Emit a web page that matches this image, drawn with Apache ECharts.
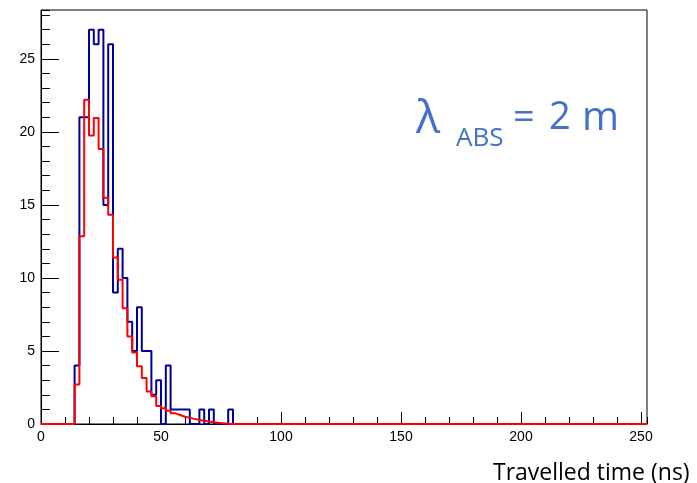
<!DOCTYPE html>
<html><head><meta charset="utf-8">
<script src="https://cdn.jsdelivr.net/npm/echarts@6/dist/echarts.min.js"></script>
<style>html,body{margin:0;padding:0;background:#fff}#c{width:697px;height:483px}</style>
</head><body><div id="c"></div>
<script>
// Histogram binning (ns)
const binWidth = 2;
const nBins = 125;
const firstBin = 7;          // first filled bin starts at 14 ns
const xMax = 252.5;
const yMax = 28.35;
const xTickLabels = [0, 50, 100, 150, 200, 250];
const yTickLabels = [0, 5, 10, 15, 20, 25];
// blue: counts per bin starting at 14 ns
const blueCounts = [4,21,21,27,26,27,15,26,9,12,10,7,5,8,5,5,2,3,0,4,1,1,1,1,0,0,1,0,1,0,0,0,1];
// red: (scaled) reference distribution per bin starting at 14 ns
const redCounts = [2.7,12.85,22.2,19.75,20.95,18.84,15.5,14.33,11.4,9.88,7.93,5.99,4.9,3.95,3.15,2.22,1.9,1.23,1.07,0.9,0.73,0.62,0.5,0.42,0.35,0.28,0.22,0.17,0.12,0.08,0.05,0.02];

function histPoints(vals) {
  const pts = [];
  for (let k = 0; k < nBins; k++) {
    const i = k - firstBin;
    const v = (i >= 0 && i < vals.length) ? vals[i] : 0;
    pts.push([k * binWidth, v]);
  }
  pts.push([xMax, 0]);
  return pts;
}

const labelFont = { fontFamily: 'Liberation Sans, Arial, sans-serif', fontSize: 14, color: '#000' };
const chart = echarts.init(document.getElementById('c'), null, { renderer: 'canvas' });
chart.setOption({
  animation: false,
  backgroundColor: '#fff',
  grid: { left: 41, right: 50, top: 10, bottom: 59, show: true, borderColor: '#000', borderWidth: 1, backgroundColor: 'transparent', containLabel: false },
  xAxis: [
    { type: 'value', gridIndex: 0, position: 'bottom', min: 0, max: xMax, interval: 50,
      axisLine: { show: true, onZero: false, lineStyle: { color: '#000', width: 1 } },
      axisTick: { show: true, inside: true, length: 12, lineStyle: { color: '#000', width: 1 } },
      axisLabel: Object.assign({ showMaxLabel: false, margin: 6,
        formatter: v => xTickLabels.indexOf(v) >= 0 ? String(v) : '' }, labelFont),
      splitLine: { show: false } },
    { type: 'value', gridIndex: 0, position: 'bottom', min: 0, max: xMax, interval: 10,
      axisLine: { show: false, onZero: false },
      axisTick: { show: true, inside: true, length: 7, lineStyle: { color: '#000', width: 1 } },
      axisLabel: { show: false }, splitLine: { show: false } }
  ],
  yAxis: [
    { type: 'value', gridIndex: 0, position: 'left', min: 0, max: yMax, interval: 5,
      axisLine: { show: true, onZero: false, lineStyle: { color: '#000', width: 1 } },
      axisTick: { show: true, inside: true, length: 18, lineStyle: { color: '#000', width: 1 } },
      axisLabel: Object.assign({ showMaxLabel: false, margin: 6,
        formatter: v => yTickLabels.indexOf(v) >= 0 ? String(v) : '' }, labelFont),
      splitLine: { show: false } },
    { type: 'value', gridIndex: 0, position: 'left', min: 0, max: yMax, interval: 1,
      axisLine: { show: false, onZero: false },
      axisTick: { show: true, inside: true, length: 9, lineStyle: { color: '#000', width: 1 } },
      axisLabel: { show: false }, splitLine: { show: false } }
  ],
  series: [
    { name: 'blue', type: 'line', xAxisIndex: 0, yAxisIndex: 0, step: 'end', symbol: 'none', clip: false,
      lineStyle: { color: '#000099', width: 2 }, data: histPoints(blueCounts) },
    { name: 'red', type: 'line', xAxisIndex: 0, yAxisIndex: 0, step: 'end', symbol: 'none', clip: false,
      lineStyle: { color: '#ff0000', width: 2 }, data: histPoints(redCounts) }
  ],
  graphic: [
    { type: 'text', left: 416, top: 98, style: { text: 'λ', fill: '#4472C4', font: '45px "Open Sans", sans-serif' } },
    { type: 'text', left: 456, top: 126, style: { text: 'ABS', fill: '#4472C4', font: '26px "Open Sans", sans-serif' } },
    { type: 'text', left: 513, top: 99, style: { text: '=', fill: '#4472C4', font: '38px "Open Sans", sans-serif' } },
    { type: 'text', left: 549, top: 99, style: { text: '2', fill: '#4472C4', font: '38px "Open Sans", sans-serif' } },
    { type: 'text', left: 582, top: 99, style: { text: 'm', fill: '#4472C4', font: '40px "Open Sans", sans-serif' } },
    { type: 'text', left: 493, top: 462, style: { text: 'Travelled time (ns)', fill: '#000', font: '23px "Open Sans", sans-serif' } }
  ]
});
</script></body></html>
